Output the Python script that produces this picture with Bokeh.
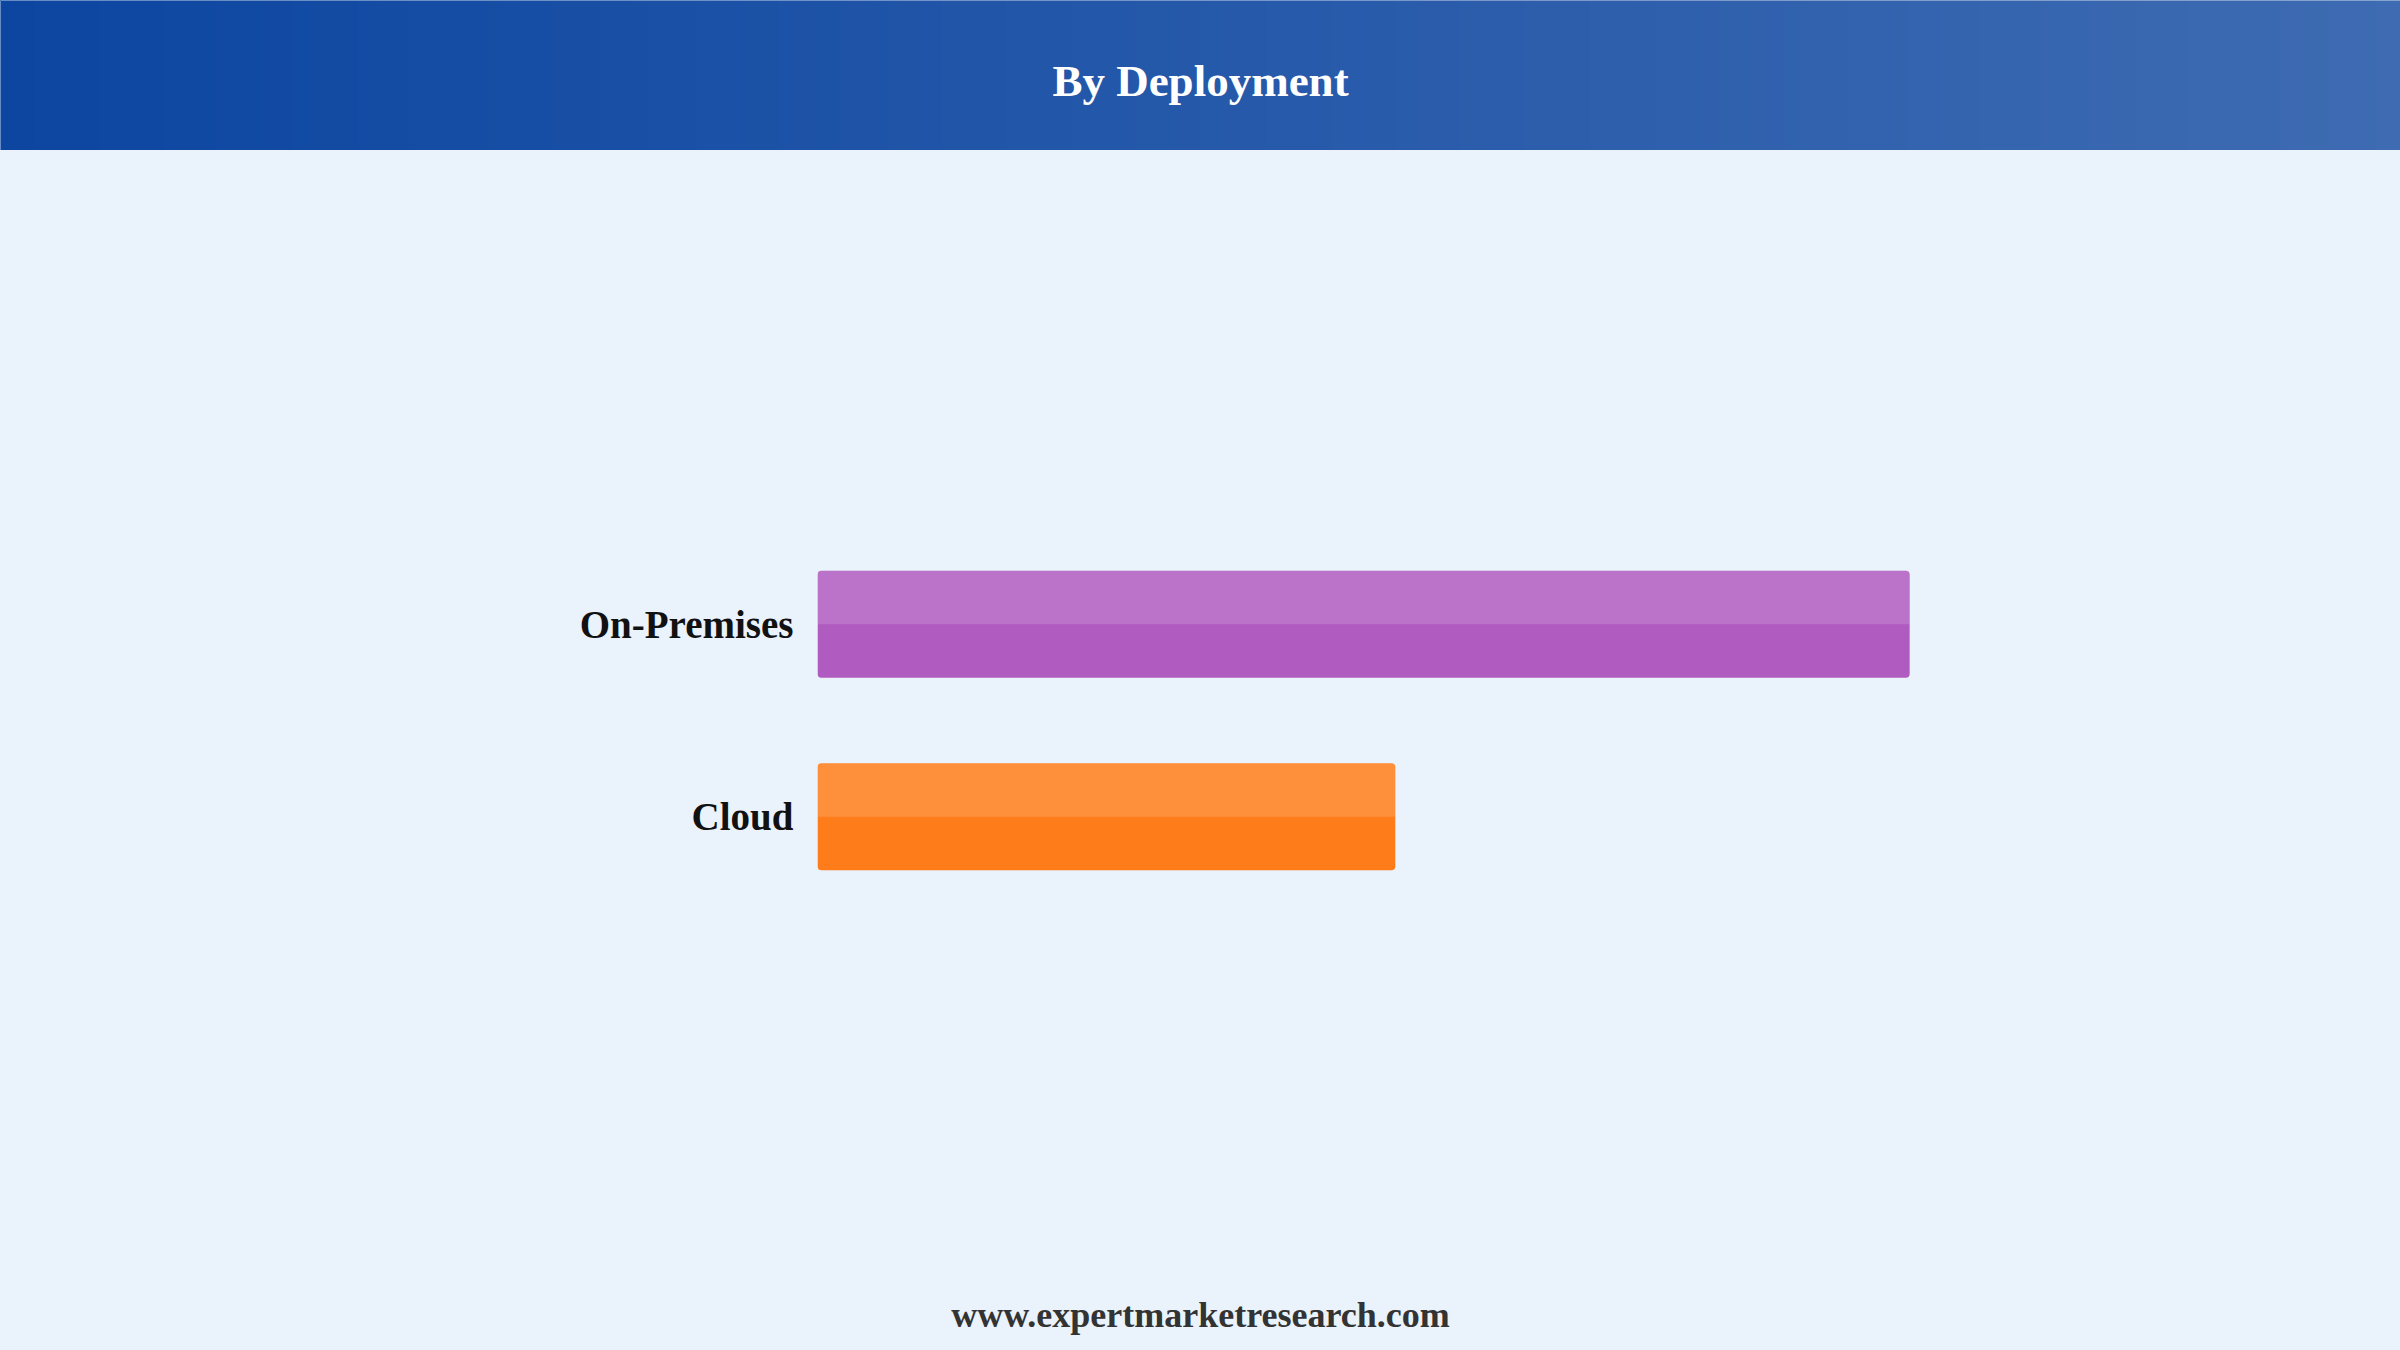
import numpy as np
from bokeh.plotting import figure
from bokeh.layouts import column
from bokeh.models import ColumnDataSource, Range1d, FactorRange
from bokeh.transform import dodge
from bokeh.core.properties import value
from bokeh.embed import file_html
from bokeh.resources import INLINE

# ---- data ----
title_text = "By Deployment"
footer_text = "www.expertmarketresearch.com"
categories = ["Cloud", "On-Premises"]
shares = [34.6, 65.4]

# ---- styles ----
bar_colors = ["#fe7d1a", "#b05bc0"]
BG = "#eaf2fc"
FONT = "Liberation Serif"
W = 2400
HEAD_H = 150
MAIN_H = 1130
FOOT_H = 70
G0 = (12, 70, 161)
G1 = (62, 107, 178)

# ---- header with gradient ----
head = figure(width=W, height=HEAD_H, output_backend="svg", toolbar_location=None,
              x_range=Range1d(0, W), y_range=Range1d(0, HEAD_H),
              min_border=0, outline_line_color=None, frame_align=False,
              border_fill_color="#%02x%02x%02x" % G0,
              styles={"background": "linear-gradient(to right, rgb%s, rgb%s)" % (str(G0), str(G1))})
head.axis.visible = False
head.grid.visible = False
c0 = np.array(G0, dtype=float)
c1 = np.array(G1, dtype=float)
t = np.arange(W) / float(W - 1)
img = np.empty((1, W), dtype=np.uint32)
view = img.view(dtype=np.uint8).reshape((1, W, 4))
for k in range(3):
    view[0, :, k] = np.round(c0[k] + (c1[k] - c0[k]) * t).astype(np.uint8)
view[0, :, 3] = 255
head.image_rgba(image=[img], x=0, y=0, dw=W, dh=HEAD_H)
head.text(x=[W / 2], y=[70], text=[title_text], text_align="center",
          text_baseline="alphabetic", text_font=value(FONT), text_font_style="bold",
          text_font_size="45px", text_color="white")

# ---- main bar chart ----
src = ColumnDataSource(dict(cat=categories, val=shares, color=bar_colors))
yr = FactorRange(factors=categories, range_padding=1.909, range_padding_units="absolute")
main = figure(width=W, height=MAIN_H, output_backend="svg", toolbar_location=None,
              x_range=Range1d(0, 90), y_range=yr,
              min_border_left=817, min_border_right=80, min_border_top=10, min_border_bottom=0,
              background_fill_color=BG, border_fill_color=BG, outline_line_color=None,
              frame_align=False, styles={"background-color": BG})
main.grid.visible = False
main.xaxis.visible = False
main.yaxis.axis_line_color = None
main.yaxis.major_tick_line_color = None
main.yaxis.minor_tick_line_color = None
main.yaxis.major_tick_in = 0
main.yaxis.major_tick_out = 0
main.yaxis.major_label_standoff = 24
main.yaxis.major_label_text_font = FONT
main.yaxis.major_label_text_font_style = "bold"
main.yaxis.major_label_text_font_size = "39px"
main.yaxis.major_label_text_color = "#111111"

BAR_H = 0.555
main.hbar(y="cat", right="val", left=0, height=BAR_H, fill_color="color",
          line_color=None, border_radius=4, source=src)
main.hbar(y=dodge("cat", BAR_H / 4, range=yr), right="val", left=0, height=BAR_H / 2,
          fill_color="white", fill_alpha=0.15, line_color=None,
          border_radius=(4, 4, 0, 0), source=src)

# ---- footer ----
foot = figure(width=W, height=FOOT_H, output_backend="svg", toolbar_location=None,
              x_range=Range1d(0, W), y_range=Range1d(0, FOOT_H), min_border=0,
              background_fill_color=BG, border_fill_color=BG, outline_line_color=None,
              frame_align=False, styles={"background-color": BG})
foot.axis.visible = False
foot.grid.visible = False
foot.text(x=[W / 2], y=[36], text=[footer_text], text_align="center",
          text_baseline="alphabetic", text_font=value(FONT), text_font_style="bold",
          text_font_size="36px", text_color="#333333")

layout = column(head, main, foot, spacing=0, styles={"background-color": BG})
open("out.html", "w").write(file_html(layout, INLINE))
